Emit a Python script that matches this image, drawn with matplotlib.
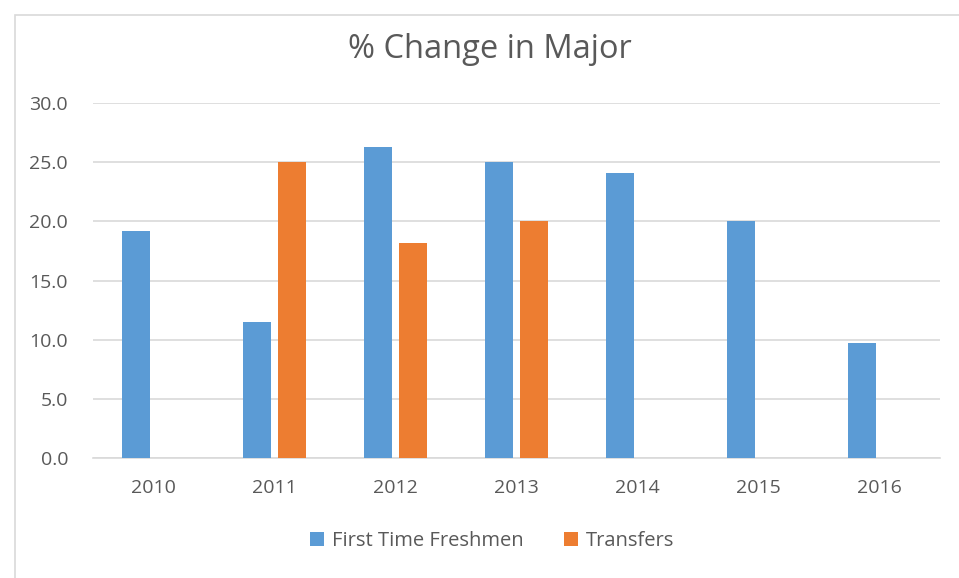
import matplotlib.pyplot as plt
import numpy as np
from matplotlib.patches import Rectangle

years = ["2010", "2011", "2012", "2013", "2014", "2015", "2016"]
freshmen = [19.2, 11.5, 26.3, 25.0, 24.1, 20.0, 9.7]
transfers = [0, 25.0, 18.2, 20.0, 0, 0, 0]

plt.rcParams["font.family"] = ["Open Sans", "DejaVu Sans"]
text_color = "#595959"

fig = plt.figure(figsize=(9.59, 5.78), dpi=100)
ax = fig.add_axes([93 / 959, 1 - 458 / 578, 847 / 959, 355 / 578])

# light outer border like the Excel chart area
fig.patches.append(
    Rectangle((15 / 959, -0.1), 1.2, 1 - 15 / 578 + 0.1, transform=fig.transFigure,
              fill=False, edgecolor="#d9d9d9", linewidth=1.2)
)

x = np.arange(len(years))
w = 0.225
ax.bar(x - 0.145, freshmen, w, color="#5b9bd5", label="First Time Freshmen", zorder=3)
ax.bar(x + 0.145, transfers, w, color="#ed7d31", label="Transfers", zorder=3)

ax.set_xlim(-0.5, len(years) - 0.5)
ax.set_ylim(0, 30)
ax.set_yticks(np.arange(0, 30.1, 5))
ax.set_yticklabels([f"{v:.1f}" for v in np.arange(0, 30.1, 5)])
ax.set_xticks(x)
ax.set_xticklabels(years)
ax.grid(axis="y", color="#d9d9d9", linewidth=1.2, zorder=0)
for side in ["top", "right", "left"]:
    ax.spines[side].set_visible(False)
ax.spines["bottom"].set_color("#d9d9d9")
ax.spines["bottom"].set_linewidth(1.2)
ax.tick_params(length=0, labelsize=14, colors=text_color)
ax.tick_params(axis="x", pad=15)
ax.tick_params(axis="y", pad=18)

fig.text(490 / 959, 1 - 50 / 578, "% Change in Major", ha="center", va="center",
         fontsize=23.5, color=text_color)

leg = fig.legend(loc="center", bbox_to_anchor=(492 / 959, 1 - 541 / 578), ncol=2,
                 frameon=False, fontsize=14.5, handlelength=0.7, handleheight=0.7,
                 columnspacing=2.0, handletextpad=0.4)
for t in leg.get_texts():
    t.set_color(text_color)

fig.savefig("out.png", dpi=100)
